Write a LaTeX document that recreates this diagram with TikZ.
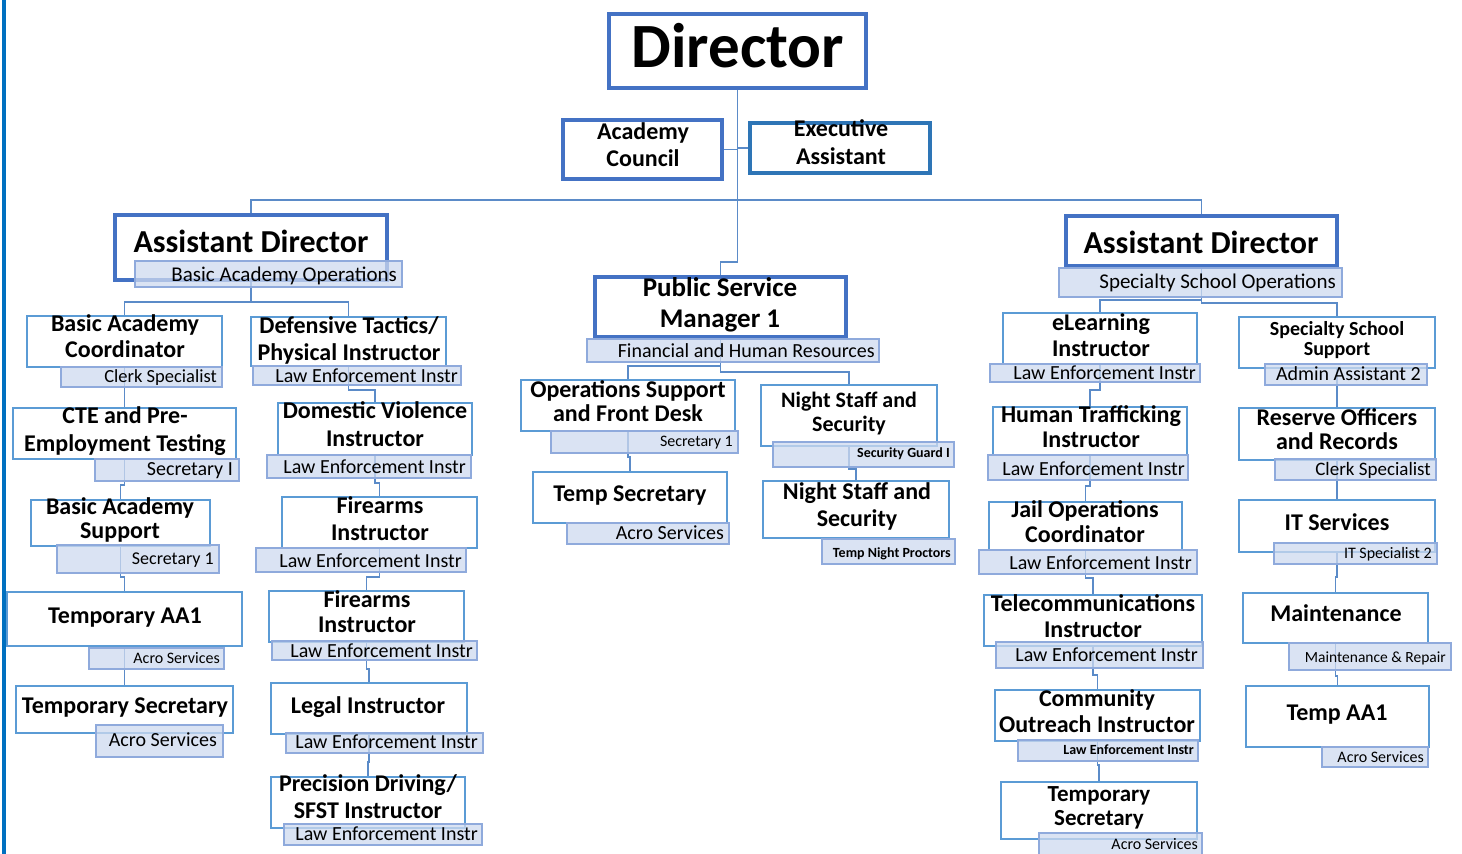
\documentclass[tikz,border=0pt]{standalone}
\usepackage{fontspec}
\setmainfont{Carlito}
\usetikzlibrary{backgrounds}
\definecolor{thickb}{HTML}{4472C4}
\definecolor{eab}{HTML}{2E75B6}
\definecolor{thinb}{HTML}{5B9BD5}
\definecolor{subb}{HTML}{8FAADC}
\definecolor{subf}{HTML}{CEDAEF}
\definecolor{connc}{HTML}{5B8BC8}
\definecolor{barc}{HTML}{0070C0}
\tikzset{
  thick box/.style={draw=thickb, line width=4pt, fill=white, inner sep=0, outer sep=0},
  ea box/.style={draw=eab, line width=4pt, fill=white, inner sep=0, outer sep=0},
  thin box/.style={draw=thinb, line width=1.5pt, fill=white, inner sep=0, outer sep=0},
  subbox/.style={draw=subb, line width=1.5pt, fill=subf, fill opacity=0.75, inner sep=0, outer sep=0},
  conn/.style={draw=connc, line width=1.3pt},
  ttl/.style args={#1/#2}{font=\fontsize{#1}{#2}\selectfont\bfseries, align=center, inner sep=0},
  st/.style={anchor=base east, inner sep=0, font=\fontsize{#1}{#1}\selectfont},
  stb/.style={anchor=base east, inner sep=0, font=\fontsize{#1}{#1}\selectfont\bfseries},
}
\newcommand\obox[6][thin box]{\node[#1, minimum width={(#5-#3)*1pt}, minimum height={(#6-#4)*1pt}] (#2) at ({(#3+#5)/2},{(#4+#6)/2}) {};}
\newcommand\osub[5]{\node[subbox, minimum width={(#4-#2)*1pt}, minimum height={(#5-#3)*1pt}] (#1) at ({(#2+#4)/2},{(#3+#5)/2}) {};}
\newcommand\olink[3]{\draw[conn] (#1.south) -- (#1.south |- 0,#3) -| (#2.north);}
\begin{document}
\begin{tikzpicture}[x=1pt,y=-1pt]
\useasboundingbox (0,0) rectangle (1462,854);
\fill[barc] (2,0) rectangle (6,854);
% ---------- boxes ----------
\obox[thick box]{dir}{609}{14}{866}{88}
\obox[thick box]{ac}{563}{120}{722}{179}
\obox[ea box]{ea}{750}{123}{930}{173}
\obox[thick box]{adl}{115}{215}{387}{280}
\obox[thick box]{adr}{1066}{216}{1337}{266}
\obox[thick box]{psm}{595}{277}{846}{337}
\obox{bac}{27}{316}{222}{367}
\obox{cte}{13}{408}{236}{459}
\obox{bas}{31}{500}{210}{546}
\obox{taa1}{7}{592}{242}{646}
\obox{tsl}{16}{686}{233}{733}
\obox{dt}{251}{317}{446}{366}
\obox{dv}{278}{403}{472}{455}
\obox{fi1}{282}{497}{477}{548}
\obox{fi2}{269}{591}{464}{642}
\obox{li}{271}{683}{467}{734}
\obox{pd}{271}{777}{465}{828}
\obox{os}{521}{380}{735}{431}
\obox{tsec}{533}{472}{727}{523}
\obox{ns1}{761}{385}{937}{446}
\obox{ns2}{763}{481}{949}{538}
\obox{el}{1003}{313}{1197}{364}
\obox{ht}{993}{407}{1187}{455}
\obox{jo}{989}{502}{1182}{550}
\obox{tc}{984}{595}{1202}{646}
\obox{co}{995}{690}{1200}{741}
\obox{ts2}{1001}{782}{1197}{839}
\obox{sss}{1239}{317}{1435}{368}
\obox{ro}{1239}{408}{1435}{460}
\obox{it}{1239}{500}{1435}{552}
\obox{mnt}{1243}{593}{1428}{643}
\obox{taa}{1246}{686}{1429}{747}
% ---------- connectors ----------
\begin{scope}[on background layer]
\draw[conn] (dir.south) -- (dir.south |- 0,262) -| (psm.north);
\draw[conn] (ac.east) -- (ac.east -| dir.south);
\draw[conn] (ea.west) -- (ea.west -| dir.south);
\draw[conn] (adl.north) |- (dir.south |- 0,200) -| (adr.north);
\olink{adl}{bac}{302}
\olink{adl}{dt}{302}
\olink{adr}{el}{300}
\olink{adr}{sss}{303}
\olink{psm}{os}{366}
\olink{psm}{ns1}{372}
\olink{os}{tsec}{457}
\olink{ns1}{ns2}{469}
\olink{bac}{cte}{397}
\olink{cte}{bas}{485}
\olink{bas}{taa1}{577}
\olink{taa1}{tsl}{676}
\olink{dt}{dv}{390}
\olink{dv}{fi1}{483}
\olink{fi1}{fi2}{577}
\olink{fi2}{li}{669}
\olink{li}{pd}{762}
\olink{el}{ht}{390}
\olink{ht}{jo}{486}
\olink{jo}{tc}{578}
\olink{tc}{co}{675}
\olink{co}{ts2}{765}
\olink{sss}{ro}{395}
\olink{ro}{it}{490}
\olink{it}{mnt}{577}
\olink{mnt}{taa}{676}
\end{scope}
% ---------- subtitle bars ----------
\osub{adl-s}{135}{261}{402}{287}
\osub{adr-s}{1059}{268}{1342}{297}
\osub{psm-s}{587}{339}{879}{362}
\osub{os-s}{551}{431}{738}{453}
\osub{tsec-s}{567}{523}{729}{544}
\osub{ns1-s}{773}{442}{954}{467}
\osub{ns2-s}{822}{539}{955}{564}
\osub{bac-s}{61}{367}{222}{387}
\osub{cte-s}{95}{459}{239}{481}
\osub{bas-s}{57}{545}{219}{573}
\osub{taa1-s}{89}{648}{224}{669}
\osub{tsl-s}{96}{725}{223}{757}
\osub{dt-s}{253}{366}{461}{385}
\osub{dv-s}{267}{455}{471}{478}
\osub{fi1-s}{256}{548}{466}{572}
\osub{fi2-s}{272}{641}{477}{660}
\osub{li-s}{286}{733}{483}{753}
\osub{pd-s}{284}{824}{482}{845}
\osub{el-s}{990}{364}{1200}{382}
\osub{ht-s}{988}{455}{1188}{480}
\osub{jo-s}{979}{550}{1197}{574}
\osub{tc-s}{996}{642}{1203}{668}
\osub{co-s}{1018}{740}{1198}{761}
\osub{ts2-s}{1039}{833}{1202}{858}
\osub{sss-s}{1265}{364}{1427}{385}
\osub{ro-s}{1275}{459}{1436}{480}
\osub{it-s}{1274}{543}{1437}{564}
\osub{mnt-s}{1289}{643}{1451}{670}
\osub{taa-s}{1322}{747}{1428}{767}
% ---------- titles ----------
\node[ttl=63/63, anchor=base] (dir-t) at (738,67) {Director};
\node[ttl=24/27] (ac-t) at (643,145) {Academy\\Council};
\node[ttl=24/28] (ea-t) at (841,142.5) {Executive\\Assistant};
\node[ttl=32/32, anchor=base] (adl-t) at (251,252) {Assistant Director};
\node[ttl=32/32, anchor=base] (adr-t) at (1201,253) {Assistant Director};
\node[ttl=27/31] (psm-t) at (720,304.5) {Public Service\\Manager 1};
\node[ttl=24/24] (os-t) at (628,401) {Operations Support\\and Front Desk};
\node[ttl=24/24, anchor=base] (tsec-t) at (630,501) {Temp Secretary};
\node[ttl=22/24] (ns1-t) at (849,413) {Night Staff and\\Security};
\node[ttl=24/27] (ns2-t) at (857,506.5) {Night Staff and\\Security};
\node[ttl=24/26] (bac-t) at (125,336.5) {Basic Academy\\Coordinator};
\node[ttl=24/28] (cte-t) at (125,431) {CTE and Pre-\\Employment Testing};
\node[ttl=24/24] (bas-t) at (120,520) {Basic Academy\\Support};
\node[ttl=24/24, anchor=base] (taa1-t) at (125,623) {Temporary AA1};
\node[ttl=24/24, anchor=base] (tsl-t) at (125,713) {Temporary Secretary};
\node[ttl=24/27] (dt-t) at (349,340.5) {Defensive Tactics/\\Physical Instructor};
\node[ttl=24/28] (dv-t) at (375,424.5) {Domestic Violence\\Instructor};
\node[ttl=24/27] (fi1-t) at (380,518.5) {Firearms\\Instructor};
\node[ttl=24/25] (fi2-t) at (367,611.5) {Firearms\\Instructor};
\node[ttl=24/24, anchor=base] (li-t) at (368,713) {Legal Instructor};
\node[ttl=24/27] (pd-t) at (368,797) {Precision Driving/\\SFST Instructor};
\node[ttl=24/26] (el-t) at (1101,335) {eLearning\\Instructor};
\node[ttl=24/25] (ht-t) at (1091,427) {Human Trafficking\\Instructor};
\node[ttl=24/25] (jo-t) at (1085,522) {Jail Operations\\Coordinator};
\node[ttl=24/26] (tc-t) at (1093,616.5) {Telecommunications\\Instructor};
\node[ttl=24/26] (co-t) at (1097,711.5) {Community\\Outreach Instructor};
\node[ttl=23/24] (ts2-t) at (1099,808) {Temporary\\Secretary};
\node[ttl=20/20] (sss-t) at (1337,340) {Specialty School\\Support};
\node[ttl=24/24] (ro-t) at (1337,429.5) {Reserve Officers\\and Records};
\node[ttl=24/24, anchor=base] (it-t) at (1337,530) {IT Services};
\node[ttl=24/24, anchor=base] (mnt-t) at (1336,621) {Maintenance};
\node[ttl=24/24, anchor=base] (taa-t) at (1337,720) {Temp AA1};
% ---------- subtitle texts ----------
\node[st=21] (adl-st) at (397,281) {Basic Academy Operations};
\node[st=21] (adr-st) at (1336,288) {Specialty School Operations};
\node[st=20] (psm-st) at (875,357) {Financial and Human Resources};
\node[st=16] (os-st) at (733,446) {Secretary 1};
\node[st=20] (tsec-st) at (724,539) {Acro Services};
\node[stb=14] (ns1-st) at (950,457) {Security Guard I};
\node[stb=14] (ns2-st) at (951,557) {Temp Night Proctors};
\node[st=18.5] (bac-st) at (217,382) {Clerk Specialist};
\node[st=20] (cte-st) at (233,475) {Secretary I};
\node[st=18] (bas-st) at (214,564) {Secretary 1};
\node[st=16] (taa1-st) at (220,663) {Acro Services};
\node[st=20] (tsl-st) at (217,746) {Acro Services};
\node[st=20] (dt-st) at (458,382) {Law Enforcement Instr};
\node[st=20] (dv-st) at (466,473) {Law Enforcement Instr};
\node[st=20] (fi1-st) at (462,567) {Law Enforcement Instr};
\node[st=20] (fi2-st) at (473,657) {Law Enforcement Instr};
\node[st=20] (li-st) at (478,748) {Law Enforcement Instr};
\node[st=20] (pd-st) at (478,840) {Law Enforcement Instr};
\node[st=20] (el-st) at (1196,379) {Law Enforcement Instr};
\node[st=20] (ht-st) at (1185,475) {Law Enforcement Instr};
\node[st=20] (jo-st) at (1192,569) {Law Enforcement Instr};
\node[st=20] (tc-st) at (1198,661) {Law Enforcement Instr};
\node[stb=14] (co-st) at (1194,754) {Law Enforcement Instr};
\node[st=16] (ts2-st) at (1198,849) {Acro Services};
\node[st=20] (sss-st) at (1421,380) {Admin Assistant 2};
\node[st=19] (ro-st) at (1431,475) {Clerk Specialist};
\node[st=16] (it-st) at (1432,558) {IT Specialist 2};
\node[st=15.5] (mnt-st) at (1446,662) {Maintenance \& Repair};
\node[st=16] (taa-st) at (1424,762) {Acro Services};
\end{tikzpicture}
\end{document}
